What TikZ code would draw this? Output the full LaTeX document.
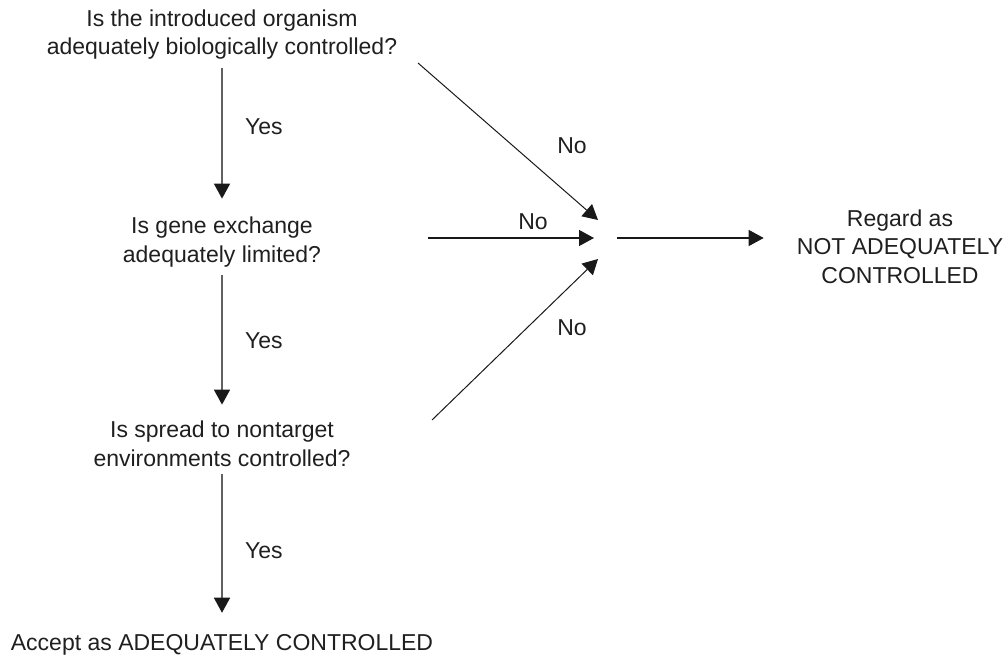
\documentclass[tikz,border=0pt]{standalone}
\usepackage{fontspec}
\setmainfont{Liberation Sans}
\usetikzlibrary{arrows.meta}
\begin{document}
\begin{tikzpicture}[x=1pt,y=-1pt,
  txt/.style={font=\fontsize{23}{28.5}\selectfont, text=black!88, inner sep=0pt, align=center, anchor=base},
  lbl/.style={font=\fontsize{23}{28.5}\selectfont, text=black!88, inner sep=0pt, anchor=base},
  arr/.style={-{Triangle[length=15pt,width=16pt]}, line width=1pt, draw=black!90},
  varr/.style={-{Triangle[length=15pt,width=16pt,color=black!90]}, line width=1.5pt, draw=black!62}]
\useasboundingbox (0,0) rectangle (1008,658);
% question nodes (base anchor = baseline of last line)
\node[txt] (q1) at (222,55) {Is the introduced organism\\adequately biologically controlled?};
\node[txt] (q2) at (222,262) {Is gene exchange\\adequately limited?};
\node[txt] (q3) at (222,466) {Is spread to nontarget\\environments controlled?};
\node[txt] (acc) at (222,650) {Accept as ADEQUATELY CONTROLLED};
\node[txt] (reg) at (900,283) {Regard as\\NOT ADEQUATELY\\CONTROLLED};
% yes arrows
\draw[varr, shorten <=8pt, shorten >=18pt] (q1.south) -- (q2.north);
\draw[varr, shorten <=8pt, shorten >=16pt] (q2.south) -- (q3.north);
\draw[varr, shorten <=8pt, shorten >=21pt] (q3.south) -- (acc.north);
\node[lbl, anchor=base west] (y1) at (245,135) {Yes};
\node[lbl, anchor=base west] (y2) at (245,348) {Yes};
\node[lbl, anchor=base west] (y3) at (245,558) {Yes};
% no arrows
\coordinate (s1) at (418,63);  \coordinate (t1) at (598,220);
\coordinate (s2) at (428,238); \coordinate (t2) at (594,238);
\coordinate (s3) at (432,420); \coordinate (t3) at (598,259);
\coordinate (r0) at (617,238);
\draw[arr] (s1) -- (t1);
\draw[arr, line width=1.3pt] (s2) -- (t2);
\draw[arr] (s3) -- (t3);
\draw[arr, line width=1.3pt, shorten >=33pt] (r0) -- (r0 -| reg.west);
\node[lbl] (n1) at (572,153) {No};
\node[lbl] (n2) at (533,229) {No};
\node[lbl] (n3) at (572,335) {No};
\end{tikzpicture}
\end{document}
